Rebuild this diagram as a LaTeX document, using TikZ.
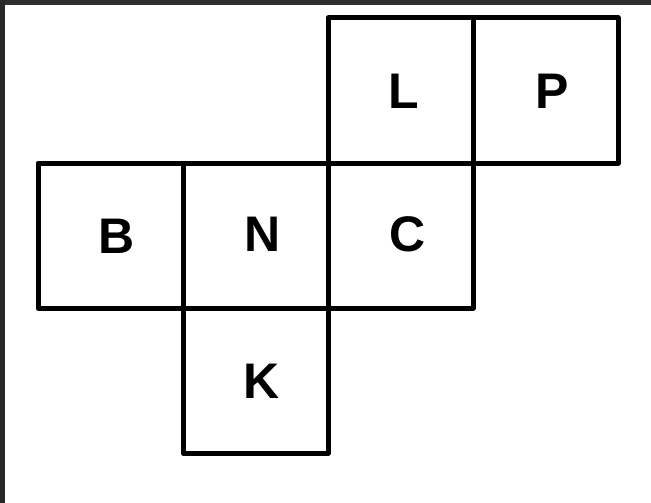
\documentclass[tikz,border=0pt]{standalone}
\usepackage{fontspec}
\setmainfont{Liberation Sans}
\begin{document}
\begin{tikzpicture}[x=1pt,y=-1pt,
  face/.style={draw=black,line width=5pt,line join=round,minimum size=145pt,inner sep=0pt,outer sep=0pt,anchor=north west},
  letter/.style={font=\fontsize{50}{50}\selectfont\bfseries,inner sep=0pt}]
\useasboundingbox (0,0) rectangle (651,503);
\fill[white] (0,0) rectangle (651,503);
\fill[black!82] (0,0) rectangle (651,5);
\fill[black!84] (0,0) rectangle (5,503);
% faces
\node[face] (fB) at (38,163) {};
\node[face] (fN) at (183,163) {};
\node[face] (fC) at (328,163) {};
\node[face] (fL) at (328,18) {};
\node[face] (fP) at (473,18) {};
\node[face] (fK) at (183,308) {};
% letters
\node[letter] (B) at (117,236) {B};
\node[letter] (N) at (262.5,234.5) {N};
\node[letter] (C) at (407.5,234) {C};
\node[letter] (L) at (404,91) {L};
\node[letter] (P) at (552,91.5) {P};
\node[letter] (K) at (261.5,381.5) {K};
\end{tikzpicture}
\end{document}
